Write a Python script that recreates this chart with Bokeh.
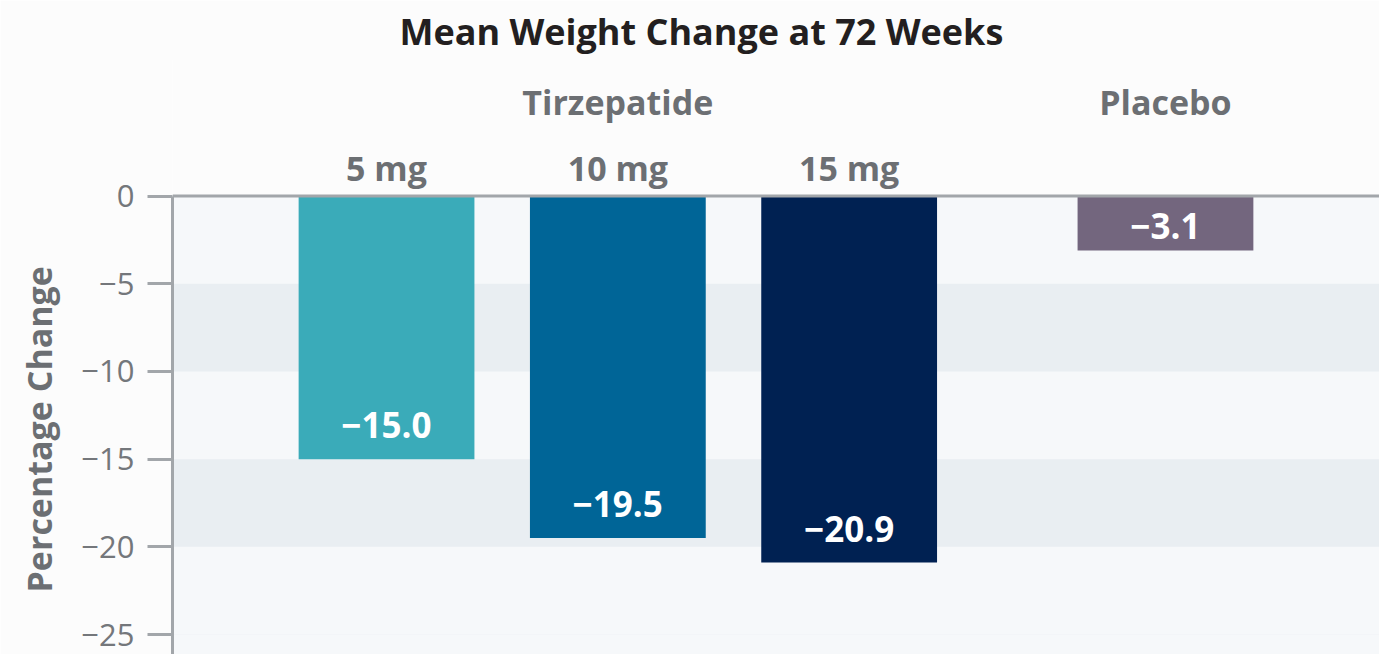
from bokeh.plotting import figure
from bokeh.models import (FactorRange, Range1d, FixedTicker, Span, BoxAnnotation,
                          ColumnDataSource, CustomJSTickFormatter, Title)
from bokeh.core.properties import value
from bokeh.embed import file_html
from bokeh.resources import INLINE

# ---- data ----
chart_title = "Mean Weight Change at 72 Weeks"
groups = ["Tirzepatide", "Tirzepatide", "Tirzepatide", "Placebo"]
doses = ["5 mg", "10 mg", "15 mg", ""]
values = [-15.0, -19.5, -20.9, -3.1]
y_ticks = [0, -5, -10, -15, -20, -25]
y_label = "Percentage Change"

# ---- style ----
bar_colors = ["#3aabb9", "#006597", "#002152", "#73667e"]
FONT = "Open Sans"
GRAY_TXT = "#6c6f73"
AXIS_GRAY = "#a2a6aa"
BG = "#fcfcfc"
BAND_LIGHT = "#f6f8fa"
BAND_DARK = "#e9eef2"

factors = list(zip(groups, doses))
x_range = FactorRange(*factors, factor_padding=0.0, group_padding=0.3675,
                      range_padding=0.4253, range_padding_units="absolute")
y_min = -26.14
y_range = Range1d(y_min, 7.79)

p = figure(width=1379, height=654, x_range=x_range, y_range=y_range,
           output_backend="svg", toolbar_location=None, x_axis_location=None,
           min_border_left=172, min_border_right=0, min_border_top=0, min_border_bottom=0,
           background_fill_color=BG, border_fill_color=BG, outline_line_color=None,
           title=chart_title)

p.title.text_font = FONT
p.title.text_font_size = "36px"
p.title.text_font_style = "bold"
p.title.text_color = "#231f20"
p.title.align = "left"
p.title.offset = 227
p.title.standoff = 8

# background bands
p.xgrid.visible = False
p.add_layout(BoxAnnotation(top=0, fill_color=BAND_LIGHT, fill_alpha=1.0,
                           line_color=None, level="image"))
p.add_layout(BoxAnnotation(top=max(y_ticks), bottom=min(y_ticks), fill_color=BAND_DARK,
                           fill_alpha=1.0, line_color=None, level="image"))
p.ygrid.ticker = FixedTicker(ticks=y_ticks)
p.ygrid.grid_line_color = None
p.ygrid.band_fill_color = BAND_LIGHT
p.ygrid.band_fill_alpha = 1.0

# y axis
ax = p.yaxis[0]
ax.ticker = FixedTicker(ticks=y_ticks)
ax.bounds = (y_min, 0)
ax.formatter = CustomJSTickFormatter(
    code="return tick < 0 ? '\\u2212' + Math.abs(tick) : String(tick)")
ax.axis_line_color = AXIS_GRAY
ax.axis_line_width = 3
ax.major_tick_line_color = AXIS_GRAY
ax.major_tick_line_width = 3
ax.major_tick_out = 25
ax.major_tick_in = 0
ax.minor_tick_out = 0
ax.minor_tick_in = 0
ax.major_label_standoff = 13
ax.major_label_text_font = FONT
ax.major_label_text_font_size = "31px"
ax.major_label_text_color = "#74777b"

# y axis title (side panel title so it can sit beside the zero-to-bottom extent)
p.add_layout(Title(text=y_label, align="left", offset=62, standoff=30,
                   vertical_align="top", text_font=FONT, text_font_size="34px",
                   text_font_style="bold", text_color=GRAY_TXT), "left")

# bars
src = ColumnDataSource(dict(
    x=factors, top=[0] * len(values), bottom=values, color=bar_colors,
    label=[f"{v:.1f}".replace("-", "\u2212") for v in values],
    ly=[v if abs(v) >= 5 else v / 2 for v in values],
    loff=[-34 if abs(v) >= 5 else 3 for v in values],
))
p.vbar(x="x", top="top", bottom="bottom", width=0.76, fill_color="color",
       line_color=None, source=src)
p.text(x="x", y="ly", text="label", y_offset="loff", source=src,
       text_font=value(FONT), text_font_size="35px", text_font_style="bold",
       text_color="white", text_align="center", text_baseline="middle")

# zero line
p.add_layout(Span(location=0, dimension="width", line_color=AXIS_GRAY, line_width=3))

# dose labels
dose_src = ColumnDataSource(dict(
    x=[f for f in factors if f[1]], y=[0] * sum(1 for d in doses if d),
    text=[d for d in doses if d]))
p.text(x="x", y="y", text="text", source=dose_src, y_offset=-28,
       text_font=value(FONT), text_font_size="34px", text_font_style="bold",
       text_color=GRAY_TXT, text_align="center", text_baseline="middle")

# group labels
grp = list(dict.fromkeys(groups))
grp_src = ColumnDataSource(dict(x=grp, y=[0] * len(grp), text=grp))
p.text(x="x", y="y", text="text", source=grp_src, y_offset=-94,
       text_font=value(FONT), text_font_size="34px", text_font_style="bold",
       text_color=GRAY_TXT, text_align="center", text_baseline="middle")

open("out.html", "w").write(file_html(p, INLINE))
